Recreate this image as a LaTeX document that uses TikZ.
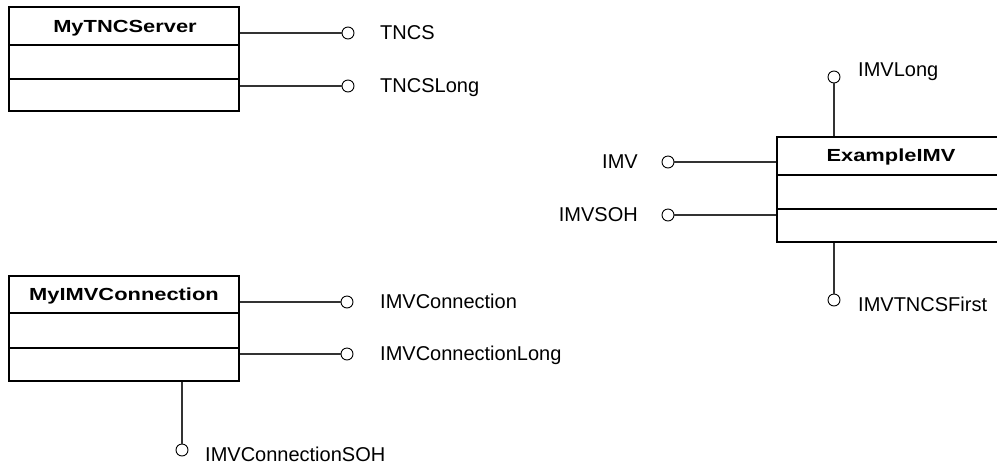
\documentclass[tikz,border=0pt]{standalone}
\usepackage{fontspec}
\setmainfont{Liberation Sans}
\newfontfamily\titlefont{Liberation Sans}[FakeStretch=1.25]
\begin{document}
\begin{tikzpicture}[x=1pt,y=-1pt,
  umlbox/.style={draw=black, line width=2pt, inner sep=0pt, fill=none},
  divider/.style={draw=black, line width=2pt},
  titletext/.style={font=\titlefont\bfseries\fontsize{17.5}{20}\selectfont, inner sep=0pt},
  lbl/.style={font=\fontsize{20}{23}\selectfont, inner sep=0pt},
  lolli/.style={circle, draw=black, line width=0.9pt, minimum size=12pt, inner sep=0pt, fill=white},
  conn/.style={draw=black!80, line width=1.3pt}]
\clip (0,0) rectangle (997,467);
\fill[white] (0,0) rectangle (997,467);

% MyTNCServer
\node[umlbox, minimum width=230pt, minimum height=104pt] (srv) at (124,59) {};
\draw[divider] (srv.west |- 0,45) -- (srv.east |- 0,45);
\draw[divider] (srv.west |- 0,79) -- (srv.east |- 0,79);
\node[titletext, anchor=base] (srvt) at (125,32) {MyTNCServer};
\node[lolli] (tncs) at (348,33) {};
\node[lolli] (tncsl) at (348,86) {};
\draw[conn] (tncs.west) -- (tncs.west -| srv.east);
\draw[conn] (tncsl.west) -- (tncsl.west -| srv.east);
\node[lbl, anchor=base west] (tncsT) at (380,39) {TNCS};
\node[lbl, anchor=base west] (tncslT) at (380,92) {TNCSLong};

% MyIMVConnection
\node[umlbox, minimum width=230pt, minimum height=105pt] (con) at (124,328.5) {};
\draw[divider] (con.west |- 0,313) -- (con.east |- 0,313);
\draw[divider] (con.west |- 0,348) -- (con.east |- 0,348);
\node[titletext, anchor=base] (cont) at (124,300) {MyIMVConnection};
\node[lolli] (ic) at (347,302) {};
\node[lolli] (icl) at (347,354) {};
\node[lolli] (ics) at (182,450) {};
\draw[conn] (ic.west) -- (ic.west -| con.east);
\draw[conn] (icl.west) -- (icl.west -| con.east);
\draw[conn] (ics.north) -- (ics.north |- con.south);
\node[lbl, anchor=base west] (icT) at (380,308) {IMVConnection};
\node[lbl, anchor=base west] (iclT) at (380,360) {IMVConnectionLong};
\node[lbl, anchor=base west] (icsT) at (205,461) {IMVConnectionSOH};

% ExampleIMV
\node[umlbox, minimum width=230pt, minimum height=105pt] (imv) at (892,189.5) {};
\draw[divider] (imv.west |- 0,175) -- (imv.east |- 0,175);
\draw[divider] (imv.west |- 0,209) -- (imv.east |- 0,209);
\node[titletext, anchor=base] (imvt) at (891,161) {ExampleIMV};
\node[lolli] (i1) at (668,162) {};
\node[lolli] (i2) at (668,215) {};
\node[lolli] (i3) at (834,77) {};
\node[lolli] (i4) at (834,300) {};
\draw[conn] (i1.east) -- (i1.east -| imv.west);
\draw[conn] (i2.east) -- (i2.east -| imv.west);
\draw[conn] (i3.south) -- (i3.south |- imv.north);
\draw[conn] (i4.north) -- (i4.north |- imv.south);
\node[lbl, anchor=base east] (i1T) at (638,168) {IMV};
\node[lbl, anchor=base east] (i2T) at (638,221) {IMVSOH};
\node[lbl, anchor=base west] (i3T) at (858,76) {IMVLong};
\node[lbl, anchor=base west] (i4T) at (858,311) {IMVTNCSFirst};
\end{tikzpicture}
\end{document}
